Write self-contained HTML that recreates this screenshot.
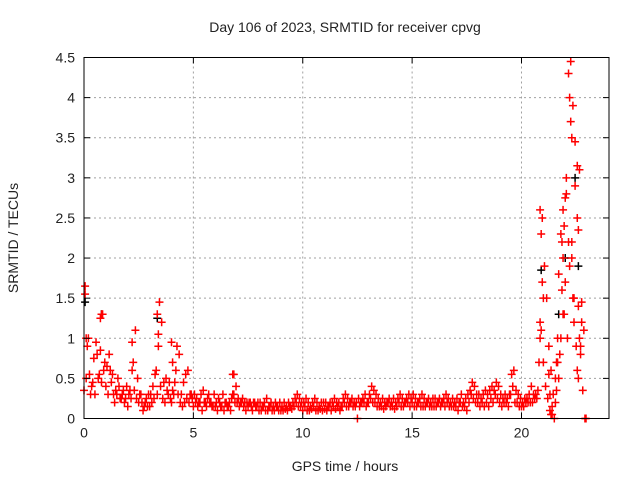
<!DOCTYPE html>
<html><head><meta charset="utf-8"><style>
body{margin:0;background:#fff}
svg text{font-family:"Liberation Sans",sans-serif;font-size:14px;fill:#222}
</style></head><body>
<svg id="chart" width="640" height="480" xmlns="http://www.w3.org/2000/svg">
<rect width="640" height="480" fill="#fff"/>
<text x="345" y="32" text-anchor="middle">Day 106 of 2023, SRMTID for receiver cpvg</text>
<text x="345" y="471" text-anchor="middle">GPS time / hours</text>
<text transform="translate(18,238) rotate(-90)" text-anchor="middle">SRMTID / TECUs</text>
<g id="grid"></g>
<g id="marks"></g>
<rect x="84" y="57.5" width="525" height="361" fill="none" stroke="#000" stroke-width="1"/>
<g id="ticks"></g>
</svg>
<script>
const xTicks=[0,5,10,15,20];
const yTicks=[0,0.5,1,1.5,2,2.5,3,3.5,4,4.5];
const yTickLabels=["0","0.5","1","1.5","2","2.5","3","3.5","4","4.5"];
const tStart=0, tStep=0.1;
const valsA=[1.55,0.9,0.55,0.4,0.75,0.95,0.5,0.85,1.3,0.7,
0.65,0.8,0.45,0.3,0.35,0.5,0.25,0.3,0.2,0.4,
0.3,0.25,0.7,1.1,0.5,0.3,0.2,0.15,0.25,0.3,
0.3,0.4,0.55,0.3,1.45,1.2,0.45,0.5,0.3,0.25,
0.35,0.45,0.9,0.8,0.3,0.45,0.55,0.6,0.3,0.25,
0.3,0.25,0.2,0.3,0.35,0.2,0.25,0.2,0.15,0.3,
0.2,0.25,0.15,0.3,0.2,0.15,0.2,0.25,0.55,0.4,
0.25,0.2,0.25,0.2,0.2,0.2,0.15,0.2,0.15,0.2,
0.2,0.15,0.2,0.25,0.15,0.2,0.15,0.2,0.15,0.2,
0.15,0.2,0.15,0.2,0.15,0.2,0.25,0.3,0.25,0.2,
0.2,0.25,0.2,0.15,0.2,0.25,0.2,0.15,0.2,0.2,
0.2,0.15,0.2,0.2,0.25,0.2,0.2,0.15,0.25,0.3,
0.25,0.2,0.25,0.2,0.2,0.25,0.2,0.25,0.3,0.2,
0.3,0.4,0.35,0.3,0.25,0.2,0.25,0.2,0.2,0.25,
0.2,0.25,0.2,0.25,0.3,0.25,0.2,0.25,0.3,0.25,
0.3,0.25,0.2,0.25,0.3,0.25,0.2,0.25,0.2,0.25,
0.25,0.2,0.25,0.2,0.25,0.3,0.25,0.2,0.25,0.2,
0.25,0.2,0.3,0.2,0.25,0.3,0.35,0.45,0.4,0.3,
0.3,0.25,0.3,0.35,0.3,0.35,0.4,0.35,0.45,0.4,
0.3,0.25,0.3,0.25,0.3,0.55,0.6,0.35,0.3,0.25,
0.2,0.25,0.25,0.3,0.4,0.3,0.3,0.35,1.0,2.5,
1.9,1.5,0.9,0.6,0.3,0.2,0.7,0.8,2.2,2.4,
2.8,2.2,4.45,3.9,3.45,2.5,3.1,1.45,1.1,0];
const valsB=[0.35,0.5,1.0,0.3,0.45,0.3,0.8,0.55,0.45,0.6,
0.4,0.3,0.6,0.55,0.2,0.3,0.4,0.25,0.35,0.25,
0.15,0.35,0.6,0.35,0.25,0.2,0.3,0.1,0.2,0.15,
0.15,0.2,0.25,0.6,0.9,0.4,0.25,0.2,0.35,0.45,
0.2,0.3,0.6,0.3,0.2,0.15,0.2,0.25,0.2,0.3,
0.15,0.2,0.15,0.2,0.1,0.2,0.15,0.3,0.2,0.15,
0.15,0.1,0.2,0.15,0.1,0.2,0.15,0.1,0.3,0.2,
0.2,0.15,0.2,0.15,0.1,0.15,0.2,0.1,0.2,0.15,
0.1,0.1,0.15,0.1,0.1,0.15,0.1,0.1,0.15,0.1,
0.1,0.1,0.12,0.1,0.15,0.12,0.15,0.2,0.15,0.15,
0.1,0.15,0.1,0.1,0.12,0.15,0.1,0.1,0.12,0.1,
0.12,0.1,0.15,0.1,0.15,0.12,0.15,0.1,0.15,0.2,
0.15,0.15,0.2,0.15,0.15,0,0.15,0.2,0.2,0.15,
0.2,0.25,0.2,0.2,0.15,0.15,0.15,0.12,0.15,0.2,
0.15,0.15,0.12,0.15,0.2,0.15,0.15,0.2,0.2,0.15,
0.2,0.15,0.15,0.2,0.15,0.15,0.15,0.2,0.15,0.15,
0.15,0.15,0.2,0.15,0.2,0.15,0.2,0.15,0.15,0.15,
0.15,0.1,0.2,0.15,0.15,0.1,0.2,0.3,0.25,0.2,
0.2,0.15,0.2,0.15,0.2,0.15,0.25,0.2,0.3,0.25,
0.2,0.15,0.2,0.2,0.15,0.3,0.4,0.2,0.2,0.15,
0.15,0.15,0.2,0.2,0.2,0.2,0.25,0.25,0.7,1.1,
0.7,0.4,0.25,0.1,0.05,0,0.35,0.5,1.0,1.3,
1.7,1.0,1.9,2.2,1.5,0.9,0.5,0.8,0.35,0];
const extraT=[20.85,20.9,20.95,21.0,20.85,21.7,21.8,21.9,21.9,22.0,22.05,22.15,22.2,22.25,22.3,22.3,22.35,22.4,22.45,22.55,22.6,22.6,22.65,22.7,22.75,22.55,21.95,21.85,21.6,21.65,21.55,21.4,21.35,21.3,21.25,3.35,3.4,0.75,0.8,0.05,0.1,4.0,4.05,2.2,6.8,6.85];
const extraV=[2.6,2.3,1.7,1.5,1.2,1.8,2.3,2.6,2.0,2.75,3.0,4.3,4.0,3.7,3.5,2.0,1.5,1.2,2.9,3.15,2.35,1.4,1.0,0.9,1.2,0.6,1.3,1.6,0.7,1.0,0.5,0.15,0.05,0.3,0.55,1.3,1.05,1.25,1.3,1.65,1.0,0.95,0.7,0.95,0.55,0.3];
const blackT=[0.05,0.8,3.35,20.9,21.7,22.0,22.45,22.6];
const blackV=[1.45,1.3,1.25,1.85,1.3,2.0,3.0,1.9];

const X0=84,X1=609,Y0=418.5,Y1=57.5,XMAX=24,YMAX=4.5;
const xs=v=>X0+(X1-X0)*v/XMAX;
const ys=v=>Y0-(Y0-Y1)*v/YMAX;
const NS="http://www.w3.org/2000/svg";
const grid=document.getElementById('grid'),ticks=document.getElementById('ticks'),marks=document.getElementById('marks');
function mk(tag,attrs,parent){const e=document.createElementNS(NS,tag);for(const k in attrs)e.setAttribute(k,attrs[k]);parent.appendChild(e);return e;}
xTicks.forEach(t=>{const x=xs(t);
 if(t>0){const g=mk('line',{x1:x,x2:x,y1:Y0,y2:Y1,stroke:'#a0a0a0','stroke-dasharray':'2,3'},grid);
 
 }
 mk('line',{x1:x,x2:x,y1:Y0,y2:Y0-6,stroke:'#000'},ticks);
 mk('line',{x1:x,x2:x,y1:Y1,y2:Y1+6,stroke:'#000'},ticks);
 const l=mk('text',{x:x,y:Y0+19,'text-anchor':'middle'},ticks);l.textContent=String(t);
 
 
});
yTicks.forEach((t,i)=>{const y=ys(t);
 if(t>0&&t<YMAX){const g=mk('line',{x1:X0,x2:X1,y1:y,y2:y,stroke:'#a0a0a0','stroke-dasharray':'2,3'},grid);
 
 }
 mk('line',{x1:X0,x2:X0+6,y1:y,y2:y,stroke:'#000'},ticks);
 mk('line',{x1:X1,x2:X1-6,y1:y,y2:y,stroke:'#000'},ticks);
 const l=mk('text',{x:X0-9,y:y+5,'text-anchor':'end'},ticks);l.textContent=yTickLabels[i];
 
 
});
function plus(t,v,col){const x=xs(t),y=ys(v);
 const p=mk('path',{d:`M${x-4},${y}H${x+4}M${x},${y-4}V${y+4}`,stroke:col,'stroke-width':1.5,fill:'none'},marks);
 
 
}
blackT.forEach((t,i)=>plus(t,blackV[i],'#000'));
valsB.forEach((v,i)=>plus(tStart+i*tStep,v,'#ff0000'));
valsA.forEach((v,i)=>plus(tStart+i*tStep+0.05,v,'#ff0000'));
extraT.forEach((t,i)=>plus(t,extraV[i],'#ff0000'));
</script>
</body></html>
